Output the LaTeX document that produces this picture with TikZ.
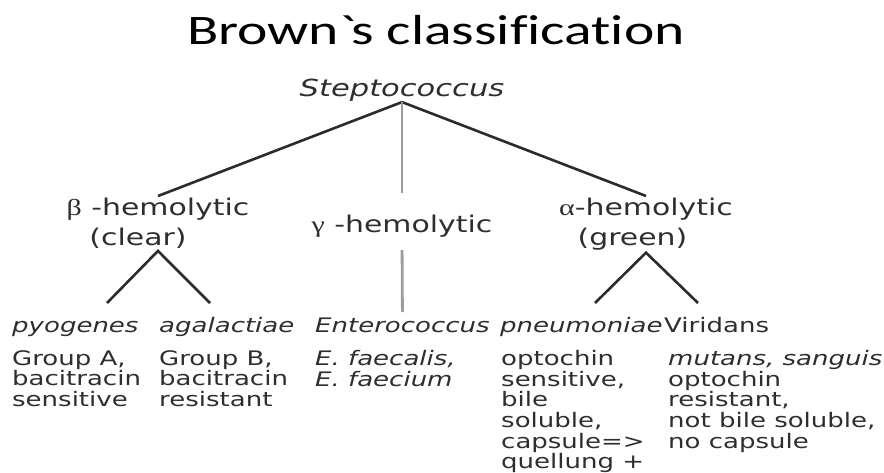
\documentclass[tikz,border=0pt]{standalone}
\usepackage{fontspec}
\setmainfont{DejaVu Sans}[FakeStretch=1.3]
\newfontfamily\titlefont{Carlito}[FakeStretch=1.37, Ligatures=CommonOff]
\newfontfamily\greekfont{Liberation Serif}[FakeStretch=1.3]
\usepackage{xcolor}
\usepackage{tikz}
\definecolor{ink}{HTML}{2E2E2E}
\definecolor{branchgray}{HTML}{2B2B2B}
\definecolor{stemgray}{HTML}{9C9C9C}

\begin{document}
\begin{tikzpicture}[
      x=1pt, y=1pt,
      every node/.style={inner sep=0pt, text=ink},
      genus/.style={font=\fontsize{23.5}{28}\selectfont\itshape, anchor=base},
      hemo/.style={font=\fontsize{23}{30}\selectfont, align=center, anchor=north, inner sep=2pt},
      species/.style={font=\fontsize{20}{20.7}\selectfont\itshape, anchor=base west},
      note/.style={font=\fontsize{20}{20.7}\selectfont, align=left, anchor=north west},
      branch/.style={draw=branchgray, line width=2.6pt},
      stem/.style={draw=stemgray, line width=2.8pt}]
    \useasboundingbox (0,0) rectangle (884,-473);
    \node[font=\titlefont\fontsize{42}{50}\selectfont, text=black, anchor=base] (title) at (436,-45) {Brown\textasciigrave s classification};
    \node[genus] (strep) at (402,-97) {Steptococcus};
    % hemolysis groups
    \node[hemo] (beta) at (158,-196) {{\greekfont β} -hemolytic\\(clear)\hspace*{40pt}};
    \node[font=\fontsize{23}{30}\selectfont, anchor=base] (gamma) at (402,-233) {{\greekfont γ} -hemolytic};
    \node[hemo] (alpha) at (646,-196) {{\greekfont α}-hemolytic\\(green)\hspace*{27pt}};
    % species
    \node[species] (pyog) at (12,-332) {pyogenes};
    \node[species] (agal) at (159,-332) {agalactiae};
    \node[species] (entero) at (315,-332) {Enterococcus};
    \node[species] (pneumo) at (500,-332) {pneumoniae};
    \node[species, font=\fontsize{20}{20.7}\selectfont\upshape] (virid) at (664,-332) {Viridans};
    % properties
    \node[note] (grpA) at (12,-350) {Group A,\\bacitracin\\sensitive};
    \node[note] (grpB) at (159,-350) {Group B,\\bacitracin\\resistant};
    \node[note] (faec) at (315,-350) {\textit{E. faecalis,}\\\textit{E. faecium}};
    \node[note] (opto) at (501,-350) {optochin\\sensitive,\\bile\\soluble,\\capsule=>\\quellung +};
    \node[note] (mutan) at (668,-350) {\textit{mutans, sanguis}\\optochin\\resistant,\\not bile soluble,\\no capsule};
    \coordinate (betaL) at (107,-303);
    \coordinate (betaR) at (210,-303);
    \coordinate (alphaL) at (595,-303);
    \coordinate (alphaR) at (698,-303);
    \draw[branch] (strep.south) -- (beta.north);
    \draw[branch] (strep.south) -- (alpha.north);
    \draw[stem, shorten >=22pt] (strep.south) -- (gamma.north);
    \draw[stem, shorten <=12pt, shorten >=5pt] (gamma.south) -- (entero.north);
    \draw[branch] (betaL) -- (beta.south) -- (betaR);
    \draw[branch] (alphaL) -- (alpha.south) -- (alphaR);
  \end{tikzpicture}
\end{document}
